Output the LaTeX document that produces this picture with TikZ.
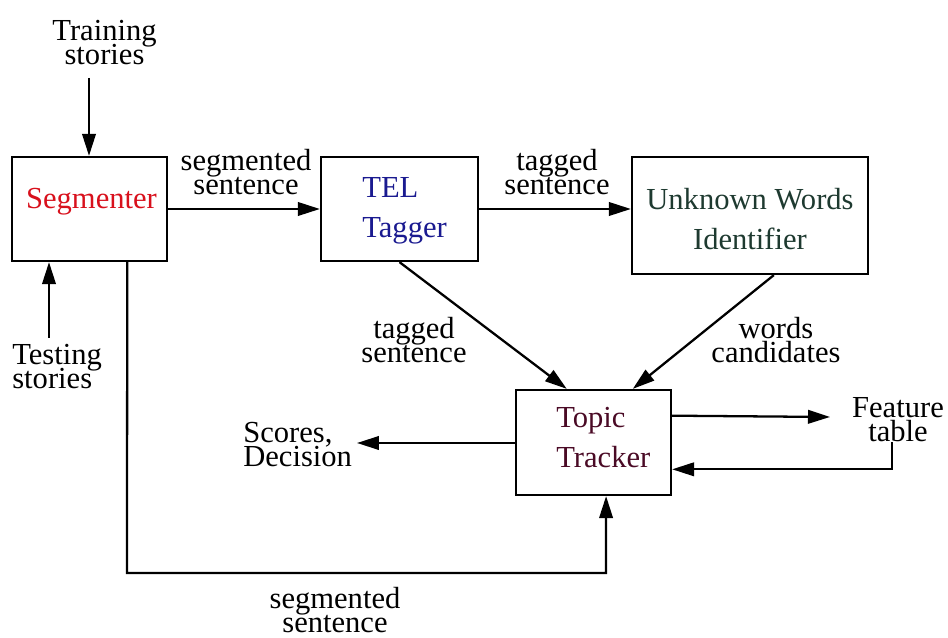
\documentclass[tikz,border=0pt]{standalone}
\usepackage{fontspec}
\setmainfont{Liberation Serif}
\usetikzlibrary{arrows.meta,calc}

\definecolor{segred}{HTML}{D8101C}
\definecolor{telblue}{HTML}{1A1A90}
\definecolor{uwigreen}{HTML}{1E3A30}
\definecolor{ttmaroon}{HTML}{4A0A25}

% stacked lines at a fixed baseline distance; the box baseline is the last line
\newcommand\clines[1]{\vbox{\lineskiplimit=-\maxdimen\let\\\cr
  \halign{\hfil##\hfil\cr#1\crcr}}}
\newcommand\llines[1]{\vbox{\lineskiplimit=-\maxdimen\let\\\cr
  \halign{##\hfil\cr#1\crcr}}}

\begin{document}
\begin{tikzpicture}[x=0.02cm, y=-0.02cm,
  box/.style={draw, line width=1.3pt, inner sep=0pt},
  lbl/.style={inner sep=0pt, anchor=base, font=\fontsize{17.4}{14.2}\selectfont},
  boxtxt/.style={inner sep=0pt, anchor=base, font=\fontsize{17.4}{22.8}\selectfont},
  arr/.style={line width=1.3pt, -{Triangle[length=0.44cm,width=0.27cm]}}]

\useasboundingbox (0,0) rectangle (948,638);

% processing blocks
\node[box, minimum width=3.1cm, minimum height=2.08cm] (seg) at (89.5,209) {};
\node[box, minimum width=3.14cm, minimum height=2.08cm] (tel) at (399.5,209) {};
\node[box, minimum width=4.72cm, minimum height=2.34cm] (uwi) at (750,215.5) {};
\node[box, minimum width=3.1cm, minimum height=2.1cm] (tt) at (593.5,442.5) {};

% block names (placed by the baseline of their last line)
\node[boxtxt, text=segred] (segt) at (91.5,209) {Segmenter};
\node[boxtxt, text=telblue, anchor=base west] (telt) at (362,238) {\llines{TEL\\Tagger}};
\node[boxtxt, text=uwigreen] (uwit) at (750,250) {\clines{Unknown Words\\Identifier}};
\node[boxtxt, text=ttmaroon, anchor=base west] (ttt) at (556,468) {\llines{Topic\\Tracker}};

% labels
\node[lbl] (train) at (104.5,65) {\clines{Training\\stories}};
\node[lbl, anchor=base west] (test) at (12,389) {\llines{Testing\\stories}};
\node[lbl] (segsent) at (246,195) {\clines{segmented\\sentence}};
\node[lbl] (tagsent) at (557,195) {\clines{tagged\\sentence}};
\node[lbl] (tagsent2) at (414,363) {\clines{tagged\\sentence}};
\node[lbl] (wordcand) at (776,363) {\clines{words\\candidates}};
\node[lbl, anchor=base west] (scores) at (243,467) {\llines{Scores,\\Decision}};
\node[lbl] (feat) at (898,442) {\clines{Feature\\table}};
\node[lbl] (segsent2) at (335,633) {\clines{segmented\\sentence}};

% free ends and bend points
\coordinate (trainTail) at (89,78);
\coordinate (testTail) at (49,338);
\coordinate (scoresIn) at (357,443);
\coordinate (featIn) at (830,417);
\coordinate (featOut) at (892,442);
\coordinate (bus) at (127,573);

% inputs
\draw[arr] (trainTail) -- (trainTail |- seg.north);
\draw[arr] (testTail) -- (testTail |- seg.south);

% main chain
\draw[arr] (seg) -- (tel);
\draw[arr] (tel.east) -- (tel.east -| uwi.west);
\draw[arr] (tel.south) -- ($(tt.north west)!0.33!(tt.north east)$);
\draw[arr] ($(uwi.south west)!0.6!(uwi.south east)$) -- ($(tt.north west)!0.75!(tt.north east)$);

% tracker outputs and feedback
\draw[arr] (tt.west |- scoresIn) -- (scoresIn);
\draw[arr] ($(tt.north east)!0.25!(tt.south east)$) -- (featIn);
\draw[arr] (featOut) |- ($(tt.north east)!0.75!(tt.south east)$);

% segmented sentences straight to the tracker
\draw[arr] ($(seg.south west)!0.74!(seg.south east)$) -- (bus) -| ($(tt.south west)!0.58!(tt.south east)$);

\end{tikzpicture}
\end{document}
